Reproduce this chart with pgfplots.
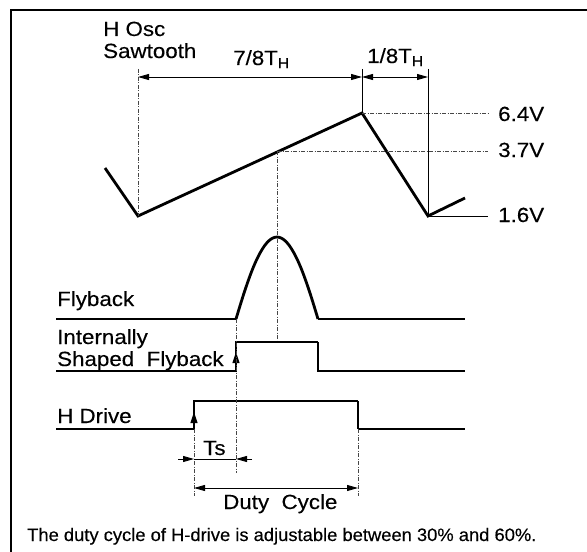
\documentclass[border=0pt]{standalone}
\usepackage{pgfplots}
\pgfplotsset{compat=1.18}
\usepackage{fontspec}
\setmainfont{Liberation Sans}
\newfontfamily\labfont[FakeStretch=1.09,FakeBold=0.25]{Liberation Sans}
\newfontfamily\senfont[FakeStretch=1.02,FakeBold=0.25]{Liberation Sans}
\usetikzlibrary{arrows.meta}
\tikzset{
  wave/.style={black, line width=2.8bp, line join=miter},
  sig/.style={black, line width=2bp, line join=miter},
  thinl/.style={black, line width=0.9bp},
  dot/.style={gray!55!black, line width=0.7bp, dash pattern=on 4bp off 1.5bp on 1bp off 1.5bp},
  dbl/.style={thinl, {Triangle[length=11bp,width=6bp]}-{Triangle[length=11bp,width=6bp]}},
  arr/.style={thinl, -{Triangle[length=11bp,width=6bp]}},
  up/.style={black, line width=1bp, -{Triangle[length=11bp,width=7bp]}},
  lab/.style={font=\labfont\fontsize{20.5bp}{23bp}\selectfont, inner sep=0pt},
}
\begin{document}
\begin{tikzpicture}
\begin{axis}[hide axis, scale only axis, width=587bp, height=552bp,
  xmin=0, xmax=587, ymin=0, ymax=552, y dir=reverse, clip=false, no markers]
% frame
\addplot[black, line width=2bp] coordinates {(11,552) (11,10) (587,10)};
% sawtooth
\addplot[wave] coordinates {(105,168) (138,216) (362,113) (428,216) (465,198)};
% reference lines
\addplot[dot] coordinates {(362,113) (488,113)};
\addplot[dot] coordinates {(277,151) (488,151)};
\addplot[thinl] coordinates {(428,216) (488,216)};
% verticals for dimensions
\addplot[dot] coordinates {(138,69) (138,216)};
\addplot[thinl] coordinates {(362,69) (362,113)};
\addplot[thinl] coordinates {(428,69) (428,216)};
\addplot[dot] coordinates {(277,151) (277,342)};
% dimension arrows
\addplot[dbl] coordinates {(138,77) (362,77)};
\addplot[dbl] coordinates {(362,77) (428,77)};
% flyback
\addplot[sig] coordinates {(56,319) (236,319)};
\addplot[wave, smooth] coordinates {(236,319) (240.1,305.5) (244.2,292.5) (248.3,280.5) (252.4,269.5) (256.5,260.0) (260.6,252.0) (264.7,245.5) (268.8,240.8) (272.9,238.0) (277,237) (281.1,238.0) (285.2,240.8) (289.3,245.5) (293.4,252.0) (297.5,260.0) (301.6,269.5) (305.7,280.5) (309.8,292.5) (313.9,305.5) (318,319)};
\addplot[sig] coordinates {(318,319) (465,319)};
% internally shaped flyback
\addplot[sig] coordinates {(56,371) (236,371) (236,342) (318,342)};
\addplot[wave] coordinates {(318,342) (318,371) (428,371)};
\addplot[sig] coordinates {(428,371) (465,371)};
\addplot[up] coordinates {(236,366) (236,352)};
% H drive
\addplot[sig] coordinates {(56,429) (194,429) (194,401) (358,401)};
\addplot[wave] coordinates {(358,401) (358,429)};
\addplot[sig] coordinates {(358,429) (465,429)};
\addplot[up] coordinates {(194,426) (194,412)};
% verticals lower
\addplot[dot] coordinates {(236,319) (236,473)};
\addplot[dot] coordinates {(194,429) (194,496)};
\addplot[dot] coordinates {(358,429) (358,496)};
% Ts arrows
\addplot[arr] coordinates {(178,459) (194,459)};
\addplot[thinl] coordinates {(194,459) (236,459)};
\addplot[arr] coordinates {(252,459) (236,459)};
% duty cycle arrow
\addplot[dbl] coordinates {(194,488) (358,488)};
% labels
\node[lab, anchor=base west] at (axis cs:103,36) {H Osc};
\node[lab, anchor=base west] at (axis cs:103,58) {Sawtooth};
\node[lab, anchor=base west] at (axis cs:233,65) {7/8T\textsubscript{H}};
\node[lab, anchor=base west] at (axis cs:367,63) {1/8T\textsubscript{H}};
\node[lab, anchor=base west] at (axis cs:498,121) {6.4V};
\node[lab, anchor=base west] at (axis cs:498,157) {3.7V};
\node[lab, anchor=base west] at (axis cs:498,222) {1.6V};
\node[lab, anchor=base west] at (axis cs:57,306) {Flyback};
\node[lab, anchor=base west] at (axis cs:57,344) {Internally};
\node[lab, anchor=base west] at (axis cs:57,366) {Shaped\ \ Flyback};
\node[lab, anchor=base west] at (axis cs:57,423) {H Drive};
\node[lab, anchor=base west] at (axis cs:203,455) {Ts};
\node[lab, anchor=base west] at (axis cs:223,509) {Duty\ \ Cycle};
\node[anchor=base west, inner sep=0pt, font=\senfont\fontsize{18bp}{21bp}\selectfont] at (axis cs:27,541) {The duty cycle of H-drive is adjustable between 30\% and 60\%.};
\end{axis}
\pgfresetboundingbox
\path[use as bounding box] (current axis.south west) rectangle (current axis.north east);
\end{tikzpicture}
\end{document}
